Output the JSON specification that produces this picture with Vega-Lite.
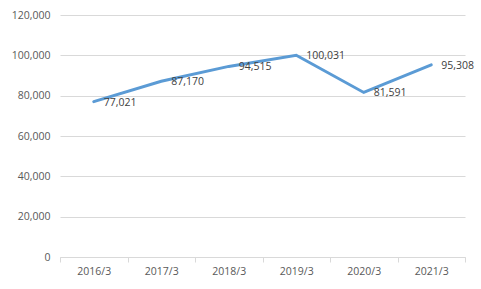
{
  "$schema": "https://vega.github.io/schema/vega-lite/v6.json",
  "width": 405,
  "height": 242,
  "autosize": "none",
  "padding": {"left": 60, "top": 15, "right": 16, "bottom": 32},
  "background": "white",
  "data": {"values": [
    {"period": "2016/3", "value": 77021},
    {"period": "2017/3", "value": 87170},
    {"period": "2018/3", "value": 94515},
    {"period": "2019/3", "value": 100031},
    {"period": "2020/3", "value": 81591},
    {"period": "2021/3", "value": 95308}
  ]},
  "encoding": {
    "x": {"field": "period", "type": "ordinal", "sort": null,
      "scale": {"paddingInner": 0, "paddingOuter": 0},
      "axis": {"title": null, "labelAngle": 0, "domainColor": "#D9D9D9", "tickColor": "#D9D9D9",
        "tickBand": "extent", "tickSize": 5, "labelPadding": 4, "labelColor": "#595959",
        "labelFont": "Open Sans", "labelFontSize": 10.5, "grid": false}},
    "y": {"field": "value", "type": "quantitative",
      "scale": {"domain": [0, 120000], "nice": false},
      "axis": {"title": null, "values": [0, 20000, 40000, 60000, 80000, 100000, 120000],
        "format": ",d", "domain": false, "ticks": false, "labelPadding": 10,
        "labelColor": "#595959", "labelFont": "Open Sans", "labelFontSize": 10.5,
        "gridColor": "#D9D9D9", "gridWidth": 1}}
  },
  "layer": [
    {"mark": {"type": "line", "color": "#5B9BD5", "strokeWidth": 3, "strokeCap": "round", "strokeJoin": "miter"}},
    {"mark": {"type": "text", "align": "left", "baseline": "middle", "dx": 10, "dy": 1,
      "font": "Open Sans", "fontSize": 10.5, "color": "#404040"},
      "encoding": {"text": {"field": "value", "type": "quantitative", "format": ",d"}}}
  ],
  "config": {"view": {"stroke": null}}
}
